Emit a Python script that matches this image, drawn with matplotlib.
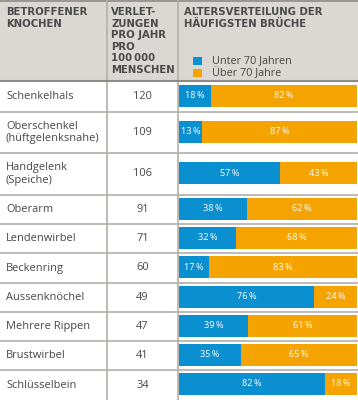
import matplotlib
matplotlib.use("Agg")
import matplotlib.pyplot as plt
from matplotlib.patches import Rectangle

plt.rcParams['font.family'] = ['Open Sans', 'DejaVu Sans']

# ---- data ----
bones = ["Schenkelhals", "Oberschenkel\n(hüftgelenksnahe)", "Handgelenk\n(Speiche)",
         "Oberarm", "Lendenwirbel", "Beckenring", "Aussenknöchel",
         "Mehrere Rippen", "Brustwirbel", "Schlüsselbein"]
injuries = [120, 109, 106, 91, 71, 60, 49, 47, 41, 34]
under70 = [18, 13, 57, 38, 32, 17, 76, 39, 35, 82]
over70 = [82, 87, 43, 62, 68, 83, 24, 61, 65, 18]
col_headers = ["BETROFFENER\nKNOCHEN",
               "VERLET-\nZUNGEN\nPRO JAHR\nPRO\n100\u2009000\nMENSCHEN",
               "ALTERSVERTEILUNG DER\nHÄUFIGSTEN BRÜCHE"]
legend_labels = ["Unter 70 Jahren", "Über 70 Jahre"]

# ---- style / layout ----
W, H = 358, 400
BLUE = "#0a8fd1"
ORANGE = "#f5a300"
HEADER_BG = "#dbd8d3"
TEXT = "#464646"
LINE = "#b3afaa"
row_edges = [81, 112, 153, 195, 224, 253, 283, 312, 341, 370, 400]
col_x = [106.7, 178]
bar_left, bar_right = 179, 357

fig = plt.figure(figsize=(W / 100, H / 100), dpi=100)
fig.patch.set_facecolor("white")
bg = fig.add_axes([0, 0, 1, 1])
bg.set_xlim(0, W)
bg.set_ylim(H, 0)
bg.axis("off")

# header background
bg.add_patch(Rectangle((0, 0), W, row_edges[0], facecolor=HEADER_BG, edgecolor="none", zorder=0))
bg.plot([0, W], [0.5, 0.5], color="#8e8a85", lw=1.2, zorder=2)
bg.plot([0, W], [row_edges[0], row_edges[0]], color="#8e8a85", lw=1.5, zorder=3)
for y in row_edges[1:-1]:
    bg.plot([0, W], [y, y], color=LINE, lw=1.2, zorder=2)
for x in col_x:
    bg.plot([x, x], [0, H], color=LINE, lw=1.2, zorder=2)

# header texts
hdr_kw = dict(fontsize=7.3, fontweight="bold", color="#4a4a4a", va="top", ha="left",
              linespacing=1.2, family=["DejaVu Sans"])
bg.text(6, 7, col_headers[0], **hdr_kw)
bg.text(111, 7, col_headers[1], **hdr_kw)
bg.text(184, 7, col_headers[2], **hdr_kw)

# legend
for i, (lab, colr) in enumerate(zip(legend_labels, [BLUE, ORANGE])):
    yc = 61 + i * 12.3
    bg.add_patch(Rectangle((193, yc - 4), 8.5, 8, facecolor=colr, edgecolor="none", zorder=3))
    bg.text(212, yc, lab, fontsize=7.8, color=TEXT, va="center", ha="left")

# body rows
centers = [(row_edges[i] + row_edges[i + 1]) / 2 for i in range(len(bones))]
for i, (b, n) in enumerate(zip(bones, injuries)):
    bg.text(6, centers[i], b, fontsize=7.9, color=TEXT, va="center", ha="left", linespacing=1.15)
    bg.text((col_x[0] + col_x[1]) / 2, centers[i], str(n), fontsize=7.9, color=TEXT,
            va="center", ha="center")

# bars
ax = fig.add_axes([bar_left / W, 0, (bar_right - bar_left) / W, 1])
ax.set_xlim(0, 100)
ax.set_ylim(H, 0)
ax.axis("off")
ax.patch.set_alpha(0)
bc = [c - 1 for c in centers]
ax.barh(bc, under70, height=22, color=BLUE, edgecolor="none")
ax.barh(bc, over70, left=under70, height=22, color=ORANGE, edgecolor="none")
for y, u, o in zip(bc, under70, over70):
    ax.text(u / 2, y, f"{u}\u2009%", color="white", fontsize=6.6, ha="center", va="center")
    ax.text(u + o / 2, y, f"{o}\u2009%", color="white", fontsize=6.6, ha="center", va="center")

fig.savefig("out.png", dpi=100, facecolor="white")
